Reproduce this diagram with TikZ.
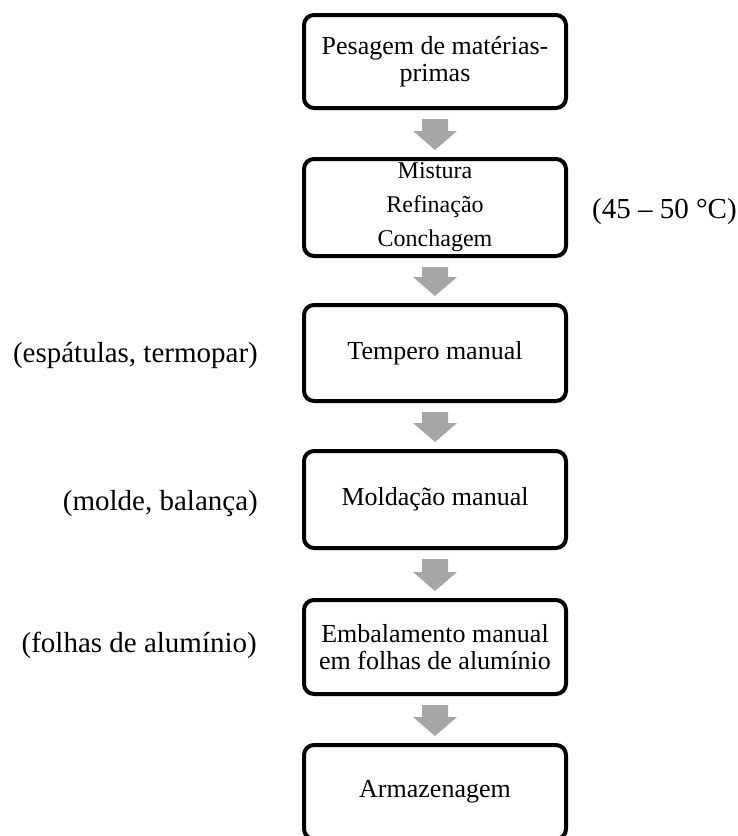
\documentclass[tikz,border=0pt]{standalone}
\usepackage{fontspec}
\setmainfont{Liberation Serif}
\usetikzlibrary{calc}
\definecolor{arrowgray}{HTML}{A6A6A6}
\newcommand\blockarrow[2]{%
  \fill[flowarrow] ($(#1.south)+(-13,9)$) -- ($(#1.south)+(13,9)$)
    -- ($(#2.north)+(13,-26)$) -- ($(#2.north)+(22,-26)$)
    -- ($(#2.north)+(0,-7)$) -- ($(#2.north)+(-22,-26)$)
    -- ($(#2.north)+(-13,-26)$) -- cycle;}
\begin{document}
\begin{tikzpicture}[x=1pt,y=-1pt,
  stepbox/.style={draw=black, line width=4pt, rounded corners=10pt,
    minimum width=262pt, align=center, inner sep=0pt,
    font=\fontsize{26}{27}\selectfont},
  listbox/.style={stepbox, font=\fontsize{24}{34}\selectfont},
  sidelabel/.style={inner sep=0pt, font=\fontsize{29}{32}\selectfont},
  flowarrow/.style={fill=arrowgray}]
\useasboundingbox (0,0) rectangle (737,836);
\clip (0,0) rectangle (737,836);
\node[stepbox, minimum height=93pt] (b1) at (435,61.5) {Pesagem de matérias-\\primas};
\node[listbox, minimum height=97pt] (b2) at (435,207.5) {Mistura\\Refinação\\Conchagem};
\node[stepbox, minimum height=96pt] (b3) at (435,353) {Tempero manual};
\node[stepbox, minimum height=97pt] (b4) at (435,499.5) {Moldação manual};
\node[stepbox, minimum height=94pt] (b5) at (435,647) {Embalamento manual\\em folhas de alumínio};
\node[stepbox, minimum height=94pt] (b6) at (435,792) {Armazenagem};
\blockarrow{b1}{b2}
\blockarrow{b2}{b3}
\blockarrow{b3}{b4}
\blockarrow{b4}{b5}
\blockarrow{b5}{b6}
\node[sidelabel, anchor=base west] (l2) at (592,218) {(45 – 50 °C)};
\node[sidelabel, anchor=base east] (l3) at (258,362) {(espátulas, termopar)};
\node[sidelabel, anchor=base east] (l4) at (258,510) {(molde, balança)};
\node[sidelabel, anchor=base east] (l5) at (257,652) {(folhas de alumínio)};
\end{tikzpicture}
\end{document}
